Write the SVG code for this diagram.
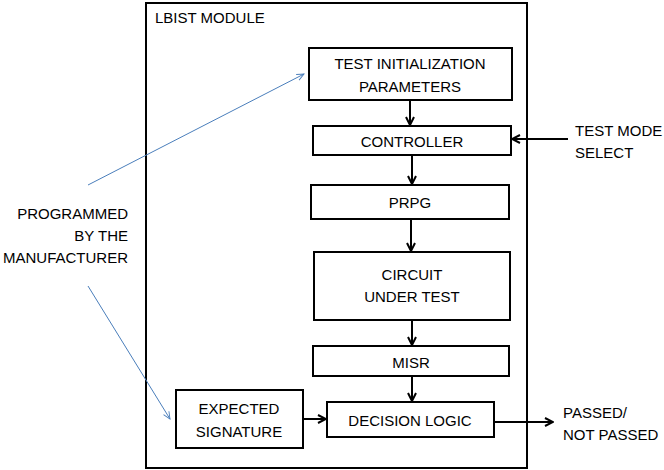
<svg xmlns="http://www.w3.org/2000/svg" width="664" height="470" viewBox="0 0 664 470">
<defs>
<style>
.box{fill:#fff;stroke:#000;stroke-width:2}
.t{font-family:"Liberation Sans",Arial,sans-serif;font-size:15px;fill:#000}
.c{text-anchor:middle}
.r{text-anchor:end}
.k{stroke:#000;stroke-width:2;fill:none}
.b{stroke:#4a7ebb;stroke-width:1;fill:none}
</style>
<marker id="ak" viewBox="0 0 10 10" refX="9" refY="5" markerWidth="5" markerHeight="5" orient="auto" markerUnits="strokeWidth">
<polyline points="1,1 9,5 1,9" fill="none" stroke="#000" stroke-width="2"/>
</marker>
<marker id="ab" viewBox="0 0 10 10" refX="9" refY="5" markerWidth="9" markerHeight="9" orient="auto" markerUnits="strokeWidth">
<polyline points="1,1.5 9,5 1,8.5" fill="none" stroke="#4a7ebb" stroke-width="1"/>
</marker>
</defs>
<g id="lbist-module">
<rect class="box" x="146" y="3" width="381" height="465"/>
<text class="t" x="155" y="23">LBIST MODULE</text>
</g>
<g id="connectors">
<line class="k" x1="410" y1="100" x2="410" y2="125" marker-end="url(#ak)"/>
<line class="k" x1="412" y1="155" x2="412" y2="184" marker-end="url(#ak)"/>
<line class="k" x1="411" y1="219" x2="411" y2="251" marker-end="url(#ak)"/>
<line class="k" x1="412" y1="320" x2="412" y2="345" marker-end="url(#ak)"/>
<line class="k" x1="412" y1="376" x2="412" y2="401" marker-end="url(#ak)"/>
<line class="k" x1="303" y1="419" x2="326" y2="419" marker-end="url(#ak)"/>
<line class="k" x1="568" y1="139" x2="512" y2="139" marker-end="url(#ak)"/>
<line class="k" x1="494" y1="422" x2="553" y2="422" marker-end="url(#ak)"/>
<line class="b" x1="88" y1="185" x2="304" y2="74" marker-end="url(#ab)"/>
<line class="b" x1="88" y1="286" x2="170" y2="419" marker-end="url(#ab)"/>
</g>
<g id="test-init">
<rect class="box" x="309" y="48" width="203" height="52"/>
<text class="t c" x="410" y="69">TEST INITIALIZATION</text>
<text class="t c" x="410" y="92">PARAMETERS</text>
</g>
<g id="controller">
<rect class="box" x="313" y="126" width="198" height="29"/>
<text class="t c" x="412" y="147">CONTROLLER</text>
</g>
<g id="prpg">
<rect class="box" x="311" y="185" width="198" height="34"/>
<text class="t c" x="410" y="208">PRPG</text>
</g>
<g id="cut">
<rect class="box" x="314" y="252" width="196" height="68"/>
<text class="t c" x="412" y="280">CIRCUIT</text>
<text class="t c" x="412" y="302">UNDER TEST</text>
</g>
<g id="misr">
<rect class="box" x="313" y="346" width="196" height="30"/>
<text class="t c" x="411" y="368">MISR</text>
</g>
<g id="decision-logic">
<rect class="box" x="327" y="402" width="167" height="35"/>
<text class="t c" x="410" y="426">DECISION LOGIC</text>
</g>
<g id="expected-signature">
<rect class="box" x="176" y="390" width="127" height="58"/>
<text class="t c" x="239" y="414">EXPECTED</text>
<text class="t c" x="239" y="437">SIGNATURE</text>
</g>
<g id="test-mode-select">
<text class="t" x="575" y="136">TEST MODE</text>
<text class="t" x="575" y="158">SELECT</text>
</g>
<g id="passed">
<text class="t" x="563" y="418">PASSED/</text>
<text class="t" x="563" y="440">NOT PASSED</text>
</g>
<g id="programmed">
<text class="t r" x="128" y="219">PROGRAMMED</text>
<text class="t r" x="128" y="241">BY THE</text>
<text class="t r" x="128" y="263">MANUFACTURER</text>
</g>
</svg>
